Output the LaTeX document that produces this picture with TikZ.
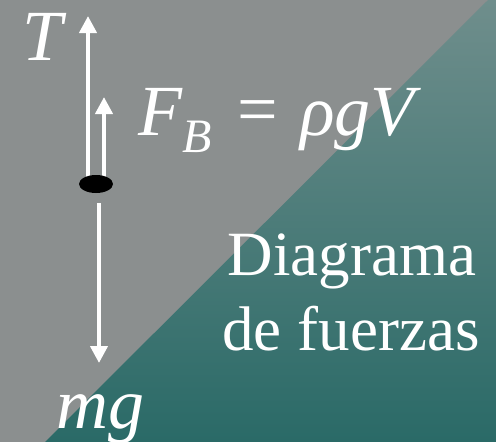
\documentclass[tikz,border=0pt]{standalone}
\usepackage{fontspec}
\setmainfont{Liberation Serif}
\usetikzlibrary{arrows.meta,shapes.geometric}
\definecolor{bggray}{HTML}{8B8F8F}
\definecolor{tealtop}{HTML}{6F8E8C}
\definecolor{tealbot}{HTML}{2A6A67}
\tikzset{
  lbl/.style={text=white, inner sep=0pt, anchor=base west},
  force/.style={draw=white, line width=4pt, -{Triangle[width=17pt,length=17pt]}},
}
\begin{document}
\begin{tikzpicture}[x=1pt,y=-1pt]
\useasboundingbox (0,0) rectangle (496,442);
\fill[bggray] (0,0) rectangle (496,442);
\shade[top color=tealtop, bottom color=tealbot] (488,0) -- (496,0) -- (496,442) -- (45,442) -- cycle;
% forces
\coordinate (tbase) at (88,179);
\coordinate (ttip) at (88,16);
\coordinate (bbase) at (104,179);
\coordinate (btip) at (104,97);
\coordinate (wbase) at (99,203);
\coordinate (wtip) at (99,363);
\draw[force] (tbase) -- (ttip);
\draw[force] (bbase) -- (btip);
\draw[force] (wbase) -- (wtip);
\node[fill=black, ellipse, minimum width=34pt, minimum height=18pt, inner sep=0pt] (dot) at (96,184) {};
% labels
\node[lbl, font=\fontsize{72}{72}\selectfont\itshape] (T) at (22,60) {T};
\node[lbl, font=\fontsize{72}{72}\selectfont\itshape] (F) at (138,135) {F};
\node[lbl, font=\fontsize{48}{48}\selectfont\itshape] (B) at (182,152) {B};
\node[text=white, inner sep=0pt, anchor=base, font=\fontsize{72}{72}\selectfont] (eq) at (258,133) {=};
\node[lbl, font=\fontsize{72}{72}\selectfont\itshape] (rho) at (300,135) {ρgV};
\node[lbl, font=\fontsize{72}{72}\selectfont\itshape] (mg) at (56,428) {mg};
\node[text=white, inner sep=0pt, anchor=base, font=\fontsize{63}{63}\selectfont] (d1) at (352,275) {Diagrama};
\node[text=white, inner sep=0pt, anchor=base, font=\fontsize{63}{63}\selectfont] (d2) at (351,350) {de fuerzas};
\end{tikzpicture}
\end{document}
